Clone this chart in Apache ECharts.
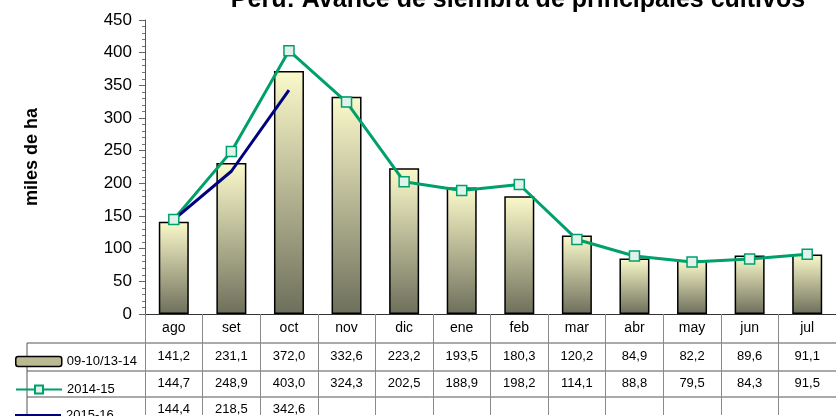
<!DOCTYPE html>
<html>
<head>
<meta charset="utf-8">
<script src="https://cdn.jsdelivr.net/npm/echarts@6/dist/echarts.min.js"></script>
<style>
  html, body { margin: 0; padding: 0; background: #fff; }
  #chart { width: 836px; height: 416px; }
</style>
</head>
<body>
<div id="chart"></div>
<script>
// datos
const meses = ['ago', 'set', 'oct', 'nov', 'dic', 'ene', 'feb', 'mar', 'abr', 'may', 'jun', 'jul'];
const prom = [141.2, 231.1, 372.0, 332.6, 223.2, 193.5, 180.3, 120.2, 84.9, 82.2, 89.6, 91.1];
const c1415 = [144.7, 248.9, 403.0, 324.3, 202.5, 188.9, 198.2, 114.1, 88.8, 79.5, 84.3, 91.5];
const c1516 = [144.4, 218.5, 342.6, null, null, null, null, null, null, null, null, null];
const nombres = ['09-10/13-14', '2014-15', '2015-16'];

const font = 'Liberation Sans, Arial, sans-serif';
const verde = '#00a06c';
const azul = '#000080';

// layout
const gLeft = 145, gTop = 20, gWidth = 702, gHeight = 295;
const gBottom = gTop + gHeight;
const rowOffsets = [28, 56, 82];

const fmt = v => (v == null ? '' : v.toFixed(1).replace('.', ','));

const chart = echarts.init(document.getElementById('chart'));

const barColor = new echarts.graphic.LinearGradient(0, 0, 0, 1, [
  { offset: 0, color: '#fbfacb' },
  { offset: 1, color: '#6e6f5b' }
]);

function rowAxis(data, offset, margin) {
  return {
    type: 'category',
    data: meses,
    gridIndex: 0,
    position: 'bottom',
    offset: offset,
    axisLine: { show: false },
    axisTick: { show: false },
    axisLabel: {
      interval: 0,
      margin: margin,
      fontFamily: font,
      fontSize: 13,
      color: '#000',
      formatter: (v, i) => fmt(data[i])
    }
  };
}

// una leyenda por fila de la tabla
function rowLegend(item, i) {
  return {
    orient: 'vertical',
    left: 10,
    top: gBottom + rowOffsets[i] + 7,
    itemWidth: 46,
    itemHeight: 10,
    itemGap: 4,
    textStyle: { fontFamily: font, fontSize: 13, color: '#000' },
    data: [item]
  };
}

const option = {
  backgroundColor: '#fff',
  animation: false,
  title: {
    text: 'Perú: Avance de siembra de principales cultivos',
    left: 513,
    textAlign: 'center',
    top: -17,
    textStyle: { fontFamily: font, fontSize: 25, fontWeight: 'bold', color: '#000' }
  },
  grid: { left: gLeft, top: gTop, width: gWidth, height: gHeight },
  legend: [
    rowLegend({ name: nombres[0], icon: 'roundRect', itemStyle: { color: '#b9b992', borderColor: '#000', borderWidth: 1.5 } }, 0),
    rowLegend({ name: nombres[1] }, 1),
    rowLegend({ name: nombres[2], icon: 'path://M0,0L46,0L46,3L0,3Z', itemStyle: { color: azul } }, 2)
  ],
  xAxis: [
    {
      type: 'category',
      data: meses,
      axisLine: { lineStyle: { color: '#333', width: 1 } },
      axisTick: { show: true, length: 101, lineStyle: { color: '#8a8a8a' } },
      axisLabel: { interval: 0, margin: 7, fontFamily: font, fontSize: 14, color: '#000' }
    },
    rowAxis(prom, rowOffsets[0], 8),
    rowAxis(c1415, rowOffsets[1], 7),
    rowAxis(c1516, rowOffsets[2], 7)
  ],
  yAxis: {
    type: 'value',
    min: 0,
    max: 450,
    interval: 50,
    axisLine: { show: true, lineStyle: { color: '#555' } },
    axisTick: { show: true, length: 6, lineStyle: { color: '#666' } },
    minorTick: { show: true, splitNumber: 5, length: 3, lineStyle: { color: '#777' } },
    splitLine: { show: false },
    axisLabel: { margin: 13, fontFamily: font, fontSize: 17, color: '#000' }
  },
  series: [
    {
      name: nombres[0],
      type: 'bar',
      data: prom,
      barWidth: 30,
      itemStyle: { color: barColor, borderColor: '#000', borderWidth: 1.5 }
    },
    {
      name: nombres[1],
      type: 'line',
      data: c1415,
      symbol: 'rect',
      symbolSize: 10,
      lineStyle: { color: verde, width: 3 },
      itemStyle: { color: '#dff3ea', borderColor: verde, borderWidth: 1.5 }
    },
    {
      name: nombres[2],
      type: 'line',
      data: c1516,
      showSymbol: false,
      symbol: 'none',
      lineStyle: { color: azul, width: 3 },
      itemStyle: { color: azul }
    }
  ],
  graphic: [
    // titulo del eje y
    {
      type: 'text',
      x: 32,
      y: 157,
      rotation: Math.PI / 2,
      style: {
        text: 'miles de ha',
        fontFamily: font,
        fontSize: 18,
        fontWeight: 'bold',
        fill: '#000',
        align: 'center',
        verticalAlign: 'middle'
      }
    },
    // bordes de la tabla
    ...rowOffsets.map(o => ({
      type: 'line',
      shape: { x1: 27, y1: gBottom + o, x2: 836, y2: gBottom + o },
      style: { stroke: '#555', lineWidth: 1 }
    })),
    {
      type: 'line',
      shape: { x1: 27, y1: gBottom + rowOffsets[0], x2: 27, y2: 416 },
      style: { stroke: '#555', lineWidth: 1 }
    }
  ]
};

chart.setOption(option);
</script>
</body>
</html>
